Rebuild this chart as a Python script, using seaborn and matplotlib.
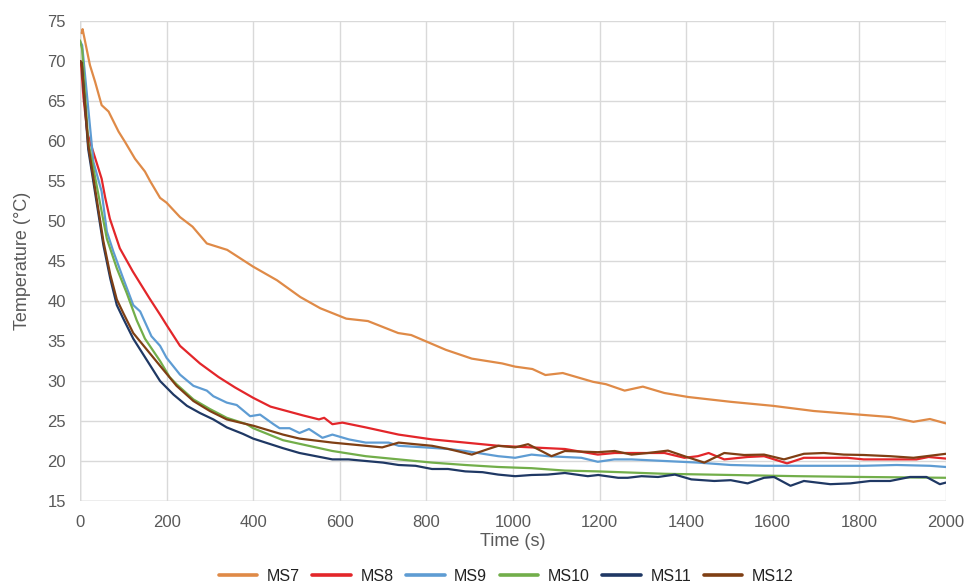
import matplotlib
matplotlib.use("Agg")
import matplotlib.pyplot as plt
import seaborn as sns
import pandas as pd

# Cooling curves: time (s) and temperature (°C) for each sample
ms7_t = [4, 6, 23, 35, 50, 66, 89, 104, 127, 150, 162, 185, 200, 231, 260, 293, 340, 400,
         455, 509, 555, 615, 665, 735, 765, 845, 905, 975, 1005, 1045, 1075, 1115, 1185,
         1215, 1258, 1300, 1350, 1405, 1503, 1600, 1695, 1800, 1871, 1925, 1963, 2000]
ms7_T = [73.5, 74.0, 69.5, 67.4, 64.5, 63.7, 61.2, 59.9, 57.8, 56.2, 55.0, 52.9, 52.3, 50.5,
         49.3, 47.2, 46.4, 44.3, 42.6, 40.5, 39.1, 37.8, 37.5, 36.0, 35.75, 33.9, 32.8, 32.2,
         31.8, 31.5, 30.75, 31.0, 29.9, 29.6, 28.8, 29.3, 28.5, 28.0, 27.4, 26.9, 26.25, 25.8,
         25.5, 24.9, 25.25, 24.7]

ms8_t = [2, 8, 17, 39, 50, 58, 69, 92, 122, 161, 185, 200, 231, 277, 320, 358, 400, 440,
         481, 515, 552, 564, 583, 606, 660, 736, 813, 890, 966, 1043, 1120, 1196, 1235,
         1274, 1350, 1396, 1427, 1452, 1488, 1542, 1580, 1633, 1672, 1718, 1772, 1810,
         1886, 1932, 1960, 2000]
ms8_T = [70.0, 65.5, 61.0, 57.2, 55.3, 53.0, 50.3, 46.6, 43.7, 40.3, 38.3, 37.0, 34.4, 32.2,
         30.5, 29.2, 27.9, 26.8, 26.2, 25.7, 25.2, 25.4, 24.6, 24.8, 24.2, 23.3, 22.7, 22.3,
         21.9, 21.7, 21.5, 20.8, 21.0, 21.0, 21.0, 20.4, 20.6, 21.0, 20.2, 20.5, 20.6, 19.7,
         20.4, 20.4, 20.4, 20.2, 20.2, 20.2, 20.5, 20.3]

ms9_t = [0, 5, 31, 50, 62, 77, 100, 123, 139, 165, 185, 200, 231, 262, 293, 308, 339, 362,
         393, 416, 447, 461, 484, 507, 529, 560, 583, 621, 660, 713, 736, 797, 851, 890,
         966, 1005, 1043, 1081, 1158, 1196, 1234, 1274, 1350, 1427, 1503, 1580, 1657,
         1733, 1810, 1886, 1963, 2000]
ms9_T = [72.5, 72.0, 57.4, 53.7, 48.7, 46.2, 42.8, 39.5, 38.7, 35.6, 34.4, 32.9, 30.8, 29.4,
         28.8, 28.1, 27.3, 27.0, 25.6, 25.8, 24.6, 24.1, 24.1, 23.5, 24.0, 22.9, 23.3, 22.7,
         22.3, 22.3, 21.9, 21.7, 21.5, 21.25, 20.6, 20.4, 20.8, 20.6, 20.4, 19.9, 20.2, 20.2,
         20.0, 19.8, 19.5, 19.4, 19.4, 19.4, 19.4, 19.5, 19.4, 19.25]

ms10_t = [0, 5, 19, 50, 62, 85, 108, 131, 150, 185, 207, 223, 262, 300, 339, 385, 400, 469,
          507, 583, 660, 736, 813, 890, 966, 1043, 1120, 1196, 1350, 1503, 1657, 1810, 2000]
ms10_T = [72.6, 71.5, 60.0, 51.2, 47.8, 44.1, 41.0, 37.6, 35.3, 32.5, 30.5, 29.6, 27.7, 26.5,
          25.4, 24.6, 24.1, 22.6, 22.15, 21.25, 20.6, 20.2, 19.8, 19.5, 19.25, 19.1, 18.8,
          18.7, 18.4, 18.25, 18.1, 18.0, 17.9]

ms11_t = [0, 4, 19, 54, 70, 85, 100, 123, 185, 216, 247, 277, 308, 339, 376, 400, 469, 507,
          545, 583, 620, 660, 700, 736, 775, 813, 850, 890, 930, 966, 1005, 1043, 1080,
          1120, 1173, 1197, 1243, 1265, 1297, 1335, 1374, 1412, 1465, 1503, 1542, 1580,
          1603, 1641, 1672, 1733, 1779, 1825, 1871, 1917, 1955, 1986, 2000]
ms11_T = [70.0, 69.8, 59.0, 47.0, 42.8, 39.5, 37.8, 35.3, 30.0, 28.3, 26.9, 26.0, 25.2, 24.2,
          23.4, 22.8, 21.6, 21.0, 20.6, 20.2, 20.2, 20.0, 19.8, 19.5, 19.4, 19.0, 19.0, 18.7,
          18.6, 18.3, 18.1, 18.25, 18.3, 18.5, 18.1, 18.25, 17.9, 17.9, 18.1, 18.0, 18.3,
          17.7, 17.5, 17.6, 17.2, 17.9, 18.0, 16.9, 17.5, 17.1, 17.2, 17.5, 17.5, 18.0,
          18.0, 17.1, 17.3]

ms12_t = [0, 4, 19, 54, 70, 85, 100, 123, 185, 223, 262, 300, 339, 401, 469, 507, 583, 660,
          698, 736, 774, 813, 851, 905, 943, 966, 1005, 1035, 1089, 1120, 1196, 1235, 1274,
          1312, 1358, 1396, 1442, 1488, 1534, 1580, 1626, 1672, 1718, 1764, 1810, 1871,
          1925, 2000]
ms12_T = [70.0, 69.8, 59.5, 47.5, 43.3, 40.2, 38.5, 36.0, 31.9, 29.4, 27.5, 26.25, 25.2, 24.4,
          23.3, 22.8, 22.3, 21.9, 21.7, 22.3, 22.1, 21.9, 21.5, 20.8, 21.5, 21.9, 21.7, 22.1,
          20.6, 21.25, 21.1, 21.25, 20.8, 21.0, 21.3, 20.6, 19.8, 21.0, 20.75, 20.8, 20.2,
          20.9, 21.0, 20.8, 20.75, 20.6, 20.4, 20.9]

series_names = ["MS7", "MS8", "MS9", "MS10", "MS11", "MS12"]
series_t = [ms7_t, ms8_t, ms9_t, ms10_t, ms11_t, ms12_t]
series_T = [ms7_T, ms8_T, ms9_T, ms10_T, ms11_T, ms12_T]
colors = ["#DF8A47", "#E3262A", "#5E9CD3", "#72AE4A", "#1F3864", "#7F3F14"]

x_ticks = list(range(0, 2001, 200))
y_ticks = list(range(15, 76, 5))

frames = [pd.DataFrame({"Time (s)": t, "Temperature (°C)": T, "Sample": n})
          for n, t, T in zip(series_names, series_t, series_T)]
df = pd.concat(frames, ignore_index=True)

sns.set_theme(style="white")
plt.rcParams["font.family"] = ["Liberation Sans", "DejaVu Sans"]

fig = plt.figure(figsize=(9.79, 5.88), dpi=100)
ax = fig.add_axes([0.0817, 0.148, 0.8845, 0.816])

sns.lineplot(data=df, x="Time (s)", y="Temperature (°C)", hue="Sample",
             hue_order=series_names, palette=dict(zip(series_names, colors)),
             linewidth=1.6, sort=False, estimator=None, ax=ax, legend=False)

text_color = "#595959"
ax.set_xlim(0, 2000)
ax.set_ylim(15, 75)
ax.set_xticks(x_ticks)
ax.set_yticks(y_ticks)
ax.tick_params(axis="both", length=0, labelsize=12, labelcolor=text_color, pad=10)
ax.grid(True, color="#D9D9D9", linewidth=1.0)
ax.set_axisbelow(True)
for s in ax.spines.values():
    s.set_visible(False)
ax.axvline(0, color="#BFBFBF", linewidth=1.0, zorder=0.5)
ax.axhline(15, color="#BFBFBF", linewidth=1.0, zorder=0.5)

ax.set_xlabel("Time (s)", fontsize=13, color=text_color)
ax.set_ylabel("Temperature (°C)", fontsize=13, color=text_color)
ax.xaxis.set_label_coords(0.5, -0.067)
ax.yaxis.set_label_coords(-0.057, 0.5)

handles = [plt.Line2D([], [], color=c, linewidth=2.6) for c in colors]
fig.legend(handles, series_names, loc="center", bbox_to_anchor=(0.517, 0.02),
           ncol=6, frameon=False, fontsize=11.5, handlelength=2.4, handletextpad=0.6,
           columnspacing=0.8, labelcolor="#222222")

fig.savefig("out.png", dpi=100, facecolor="white")
